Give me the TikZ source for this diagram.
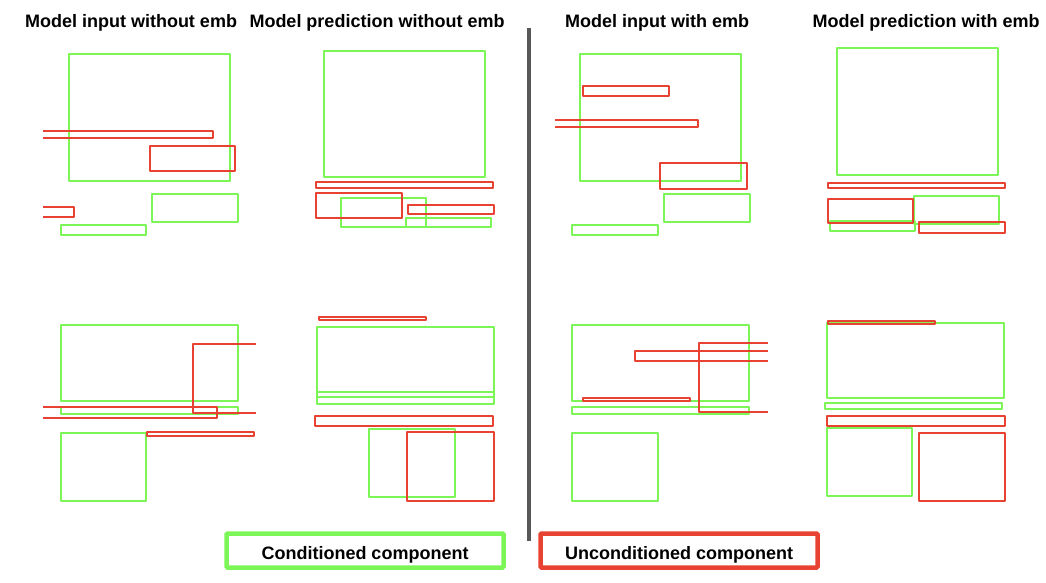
\documentclass[tikz,border=0pt]{standalone}
\usepackage{xcolor}
\usepackage{fontspec}
\usepackage{tikz}
\setmainfont{Liberation Sans}

\definecolor{condgreen}{RGB}{124,245,86}
\definecolor{uncondred}{RGB}{232,66,50}
\definecolor{divgray}{RGB}{88,88,88}

\tikzset{
  condbox/.style={draw=condgreen,line width=2.4pt,line join=round},
  uncondbox/.style={draw=uncondred,line width=2.4pt,line join=round},
  paneltitle/.style={font=\fontsize{18}{20}\selectfont\bfseries,anchor=base},
  legendbox/.style={line width=4.5pt,minimum width=277pt,minimum height=34pt,
    inner sep=0pt,text height=17pt,text depth=0pt,
    font=\fontsize{18}{20}\selectfont\bfseries,rounded corners=1pt}
}

\begin{document}
\begin{tikzpicture}[x=1pt,y=-1pt]
  \useasboundingbox (0,0) rectangle (1046,582);

  % panel titles
  \node[paneltitle] (titleInNo)  at (131,27) {Model input without emb};
  \node[paneltitle] (titlePrNo)  at (377,27) {Model prediction without emb};
  \node[paneltitle] (titleInEmb) at (657,27) {Model input with emb};
  \node[paneltitle] (titlePrEmb) at (926,27) {Model prediction with emb};

  % divider
  \draw[divgray,line width=4.5pt] (529,28)--(529,541);

  % conditioned boxes
  \foreach \xa/\ya/\xb/\yb in {69/54/230/181, 152/194/238/222, 61/225/146/235,
    324/51/485/177, 341/198/426/227, 406/218/491/227,
    580/54/741/181, 664/194/750/222, 572/225/658/235,
    837/48/998/175, 914/196/999/224, 830/221/915/231,
    61/325/238/401, 61/407/238/414, 61/433/146/501,
    317/327/494/397, 317/392/494/404, 369/429/455/497,
    572/325/749/401, 572/407/749/414, 572/433/658/501,
    827/323/1004/398, 825/403/1002/409, 827/428/912/496}
  {
    \draw[condbox] (\xa,\ya) rectangle (\xb,\yb);
  }

  % unconditioned boxes
  \foreach \xa/\ya/\xb/\yb in {150/146/235/171,
    316/182/493/188, 316/193/402/218, 408/205/494/214,
    583/86/669/96, 660/163/747/189,
    828/183/1005/188, 828/199/913/223, 919/222/1005/233,
    147/432/254/436,
    319/317/426/320, 315/416/493/426, 407/432/494/501,
    583/398/690/401,
    828/321/935/324, 827/416/1005/426, 919/433/1005/501}
  {
    \draw[uncondbox] (\xa,\ya) rectangle (\xb,\yb);
  }

  % boxes cut at the image edge (open end first)
  \foreach \xo/\xc/\ya/\yb in {43/213/131/138, 43/74/207/217,
    555/698/120/127, 43/217/407/418,
    256/193/344/413, 768/635/351/361, 768/699/343/412}
  {
    \draw[uncondbox] (\xo,\ya) -| (\xc,\yb) -- (\xo,\yb);
  }

  % legend
  \node[legendbox,draw=condgreen] (legCond) at (365,550.5) {Conditioned component};
  \node[legendbox,draw=uncondred] (legUncond) at (679,550.5) {Unconditioned component};
\end{tikzpicture}
\end{document}
